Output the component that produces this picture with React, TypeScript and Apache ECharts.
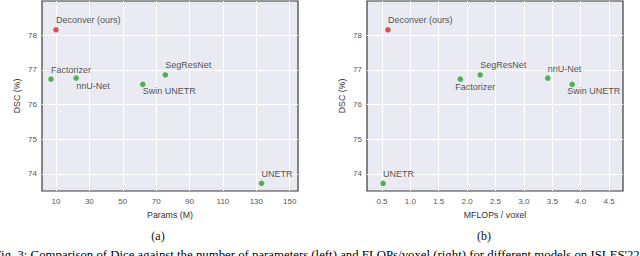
import React, { useEffect, useRef } from "react";
import * as echarts from "echarts";

const models = ["Deconver (ours)", "Factorizer", "nnU-Net", "SegResNet", "Swin UNETR", "UNETR"];
const dsc = [78.15, 76.73, 76.76, 76.85, 76.58, 73.73];
const paramsM = [10.0, 7.0, 22.1, 75.5, 62.0, 133.1];
const mflops = [0.605, 1.88, 3.42, 2.23, 3.85, 0.52];
const ours = [true, false, false, false, false, false];

const xTicksParams = [10, 30, 50, 70, 90, 110, 130, 150];
const xTicksFlops = [0.5, 1.0, 1.5, 2.0, 2.5, 3.0, 3.5, 4.0, 4.5];
const yTicks = [74, 75, 76, 77, 78];

// label offsets (layout only)
const offsetsLeft = [[0, -10], [0, -9], [0, 8], [0, -10], [0, 7], [0, -9]];
const offsetsRight = [[0, -10], [-5, 8], [0, -9], [0, -10], [-5, 7], [0, -9]];

const RED = "#d62728";
const GREEN = "#2ca02c";
const SANS = "Liberation Sans, Arial, sans-serif";
const SERIF = "Liberation Serif, Times New Roman, serif";

function pointsFor(xs: number[], offs: number[][]) {
  return models.map((m, i) => ({
    name: m,
    value: [xs[i], dsc[i]],
    itemStyle: { color: ours[i] ? RED : GREEN },
    label: {
      show: true,
      formatter: m,
      position: "inside",
      align: "left",
      verticalAlign: "middle",
      offset: offs[i],
      color: "#262626",
      fontSize: 9,
      fontFamily: SANS,
    },
  }));
}

function gridSeries(idx: number, xt: number[]) {
  return {
    type: "scatter",
    xAxisIndex: idx,
    yAxisIndex: idx,
    data: [],
    silent: true,
    z: 1,
    markLine: {
      silent: true,
      z: 1,
      symbol: ["none", "none"],
      label: { show: false },
      emphasis: { disabled: true },
      lineStyle: { color: "#ffffff", width: 1, type: "solid", opacity: 1 },
      data: [...xt.map((v) => ({ xAxis: v })), ...yTicks.map((v) => ({ yAxis: v }))],
    },
  };
}

export default function App() {
  const ref = useRef<HTMLDivElement>(null);
  useEffect(() => {
    document.body.style.margin = "0";
    const chart = echarts.init(ref.current!, null, { renderer: "svg" });
    const mkX = (idx: number, min: number, max: number, ticks: number[], name: string, fmt: (v: number) => string) => ({
      type: "value",
      gridIndex: idx,
      min,
      max,
      name,
      nameLocation: "middle",
      nameGap: 19,
      nameTextStyle: { color: "#333", fontSize: 8.8, fontFamily: SANS },
      axisLine: { show: false },
      axisTick: { show: false },
      splitLine: { show: false },
      axisLabel: {
        customValues: ticks,
        formatter: fmt,
        color: "#555",
        fontSize: 8,
        fontFamily: SANS,
        margin: 6,
      },
    });
    const mkY = (idx: number) => ({
      type: "value",
      gridIndex: idx,
      min: 73.51,
      max: 78.98,
      name: "DSC (%)",
      nameLocation: "middle",
      nameGap: 21,
      nameTextStyle: { color: "#333", fontSize: 8.8, fontFamily: SANS },
      axisLine: { show: false },
      axisTick: { show: false },
      splitLine: { show: false },
      axisLabel: {
        customValues: yTicks,
        formatter: (v: number) => String(v),
        color: "#555",
        fontSize: 8,
        fontFamily: SANS,
        margin: 5,
      },
    });
    chart.setOption({
      animation: false,
      grid: [
        { left: 42, top: 1, width: 256, height: 190, show: true, backgroundColor: "#EAEAF2", borderColor: "#3a3a3a", borderWidth: 1.2 },
        { left: 367, top: 1, width: 256, height: 190, show: true, backgroundColor: "#EAEAF2", borderColor: "#3a3a3a", borderWidth: 1.2 },
      ],
      xAxis: [
        mkX(0, 1.63, 154.96, xTicksParams, "Params (M)", (v: number) => String(v)),
        mkX(1, 0.236, 4.746, xTicksFlops, "MFLOPs / voxel", (v: number) => v.toFixed(1)),
      ],
      yAxis: [mkY(0), mkY(1)],
      series: [
        gridSeries(0, xTicksParams),
        gridSeries(1, xTicksFlops),
        {
          type: "scatter",
          xAxisIndex: 0,
          yAxisIndex: 0,
          symbolSize: 5.5,
          z: 3,
          data: pointsFor(paramsM, offsetsLeft),
        },
        {
          type: "scatter",
          xAxisIndex: 1,
          yAxisIndex: 1,
          symbolSize: 5.5,
          z: 3,
          data: pointsFor(mflops, offsetsRight),
        },
      ],
      graphic: [
        { type: "text", x: 158, y: 236, style: { text: "(a)", fill: "#111", font: `12px ${SERIF}`, textAlign: "center", textVerticalAlign: "middle" } },
        { type: "text", x: 484, y: 236, style: { text: "(b)", fill: "#111", font: `12px ${SERIF}`, textAlign: "center", textVerticalAlign: "middle" } },
        {
          type: "text",
          x: -6,
          y: 255,
          style: {
            text: "Fig. 3: Comparison of Dice against the number of parameters (left) and FLOPs/voxel (right) for different models on ISLES'22",
            fill: "#000",
            font: `12.8px ${SERIF}`,
            textAlign: "left",
            textVerticalAlign: "middle",
          },
        },
      ],
    });
    return () => chart.dispose();
  }, []);
  return <div ref={ref} style={{ width: 640, height: 256 }} />;
}
